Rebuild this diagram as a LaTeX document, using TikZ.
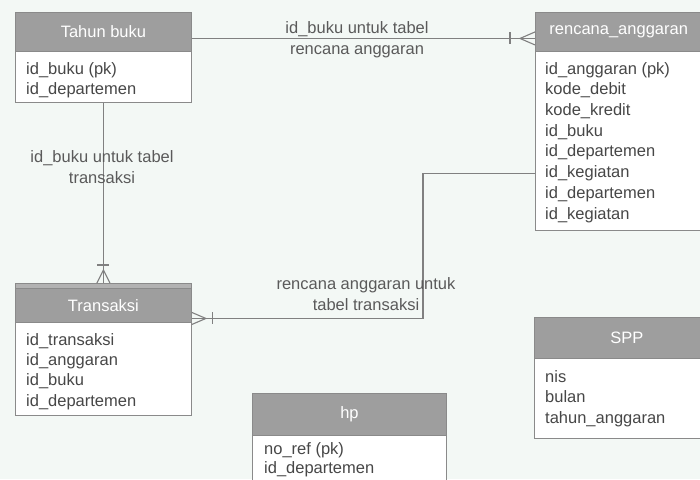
\documentclass[tikz,border=0pt]{standalone}
\usepackage{fontspec}
\setmainfont{Liberation Sans}
\usetikzlibrary{calc}
\definecolor{bgc}{HTML}{F3F8F5}
\definecolor{hdrc}{HTML}{9E9E9E}
\definecolor{hdrlt}{HTML}{B2B2B2}
\definecolor{brd}{HTML}{8A8A8A}
\definecolor{txtc}{HTML}{474747}
\definecolor{lblc}{HTML}{5A5A5A}
\definecolor{conc}{HTML}{808080}
\tikzset{
  hdr/.style={draw=brd, fill=hdrc, line width=0.9pt, anchor=north west, inner sep=0pt,
    text=white, font=\fontsize{16.5pt}{20.7pt}\selectfont},
  tbody/.style={draw=brd, fill=white, line width=0.9pt, anchor=north west, inner sep=0pt},
  rows/.style={anchor=north west, align=left, inner sep=0pt, text=txtc,
    font=\fontsize{16.5pt}{20.7pt}\selectfont},
  lbl/.style={align=center, inner sep=0pt, text=lblc,
    font=\fontsize{16.5pt}{21pt}\selectfont},
  conn/.style={draw=conc, line width=1.1pt}
}
\begin{document}
\begin{tikzpicture}[x=1pt,y=-1pt]
\clip (0,0) rectangle (700,479);
\fill[bgc] (0,0) rectangle (700,479);

% Tahun buku
\node[tbody, minimum width=176pt, minimum height=51pt] (tb-b) at (15,51) {};
\node[hdr, minimum width=176pt, minimum height=39pt] (tb-h) at (15,12) {Tahun buku};
\node[rows] (tb-r) at (26,62) {id\_buku (pk)\\id\_departemen};

% rencana_anggaran
\node[tbody, minimum width=175pt, minimum height=179pt] (ra-b) at (535,51) {};
\node[hdr, minimum width=175pt, minimum height=39pt, text width=165pt, align=left] (ra-h) at (535,12) {\hspace*{9pt}rencana\_anggaran};
\node[rows] (ra-r) at (545,62) {id\_anggaran (pk)\\kode\_debit\\kode\_kredit\\id\_buku\\id\_departemen\\id\_kegiatan\\id\_departemen\\id\_kegiatan};

% Transaksi
\node[tbody, minimum width=176pt, minimum height=93pt] (tr-b) at (15,322) {};
\node[hdr, minimum width=176pt, minimum height=34pt] (tr-h) at (15,288) {Transaksi};
\node[draw=brd, fill=hdrlt, line width=0.9pt, anchor=north west, inner sep=0pt, minimum width=176pt, minimum height=5pt] (tr-s) at (15,283) {};
\node[rows, font=\fontsize{16.5pt}{20.4pt}\selectfont] (tr-r) at (26,333) {id\_transaksi\\id\_anggaran\\id\_buku\\id\_departemen};

% hp
\node[tbody, minimum width=194pt, minimum height=60pt] (hp-b) at (252,435) {};
\node[hdr, minimum width=194pt, minimum height=42pt] (hp-h) at (252,393) {hp};
\node[rows, font=\fontsize{16.5pt}{19.5pt}\selectfont] (hp-r) at (264,442) {no\_ref (pk)\\id\_departemen};

% SPP
\node[tbody, minimum width=176pt, minimum height=80pt] (spp-b) at (534,358) {};
\node[hdr, minimum width=176pt, minimum height=41pt, text width=166pt, align=left] (spp-h) at (534,317) {\hspace*{71pt}SPP};
\node[rows] (spp-r) at (545,370) {nis\\bulan\\tahun\_anggaran};

% connector 1: Tahun buku -> rencana_anggaran
\coordinate (e1) at ([yshift=-6.5pt]ra-h.west);
\draw[conn] ([yshift=-6.5pt]tb-h.east) -- (e1);
\draw[conn] ($(e1)+(-25,-6)$) -- ++(0,12);
\draw[conn] ($(e1)+(0,-6.5)$) -- ($(e1)+(-15,0)$) -- ($(e1)+(0,6.5)$);
\node[lbl] (l1) at (357,39.5) {id\_buku untuk tabel\\rencana anggaran};

% connector 2: Tahun buku -> Transaksi
\coordinate (e2) at (tr-s.north);
\draw[conn] (tb-b.south) -- (e2);
\draw[conn] ($(e2)+(-6,-18)$) -- ++(12,0);
\draw[conn] ($(e2)+(-6.5,0)$) -- ($(e2)+(0,-13)$) -- ($(e2)+(6.5,0)$);
\node[lbl] (l2) at (102,167) {id\_buku untuk tabel\\transaksi};

% connector 3: rencana_anggaran -> Transaksi
\coordinate (e3) at ([yshift=-13pt]tr-h.east);
\draw[conn] ([yshift=-32.5pt]ra-b.west) -- ++(-112,0) |- (e3);
\draw[conn] ($(e3)+(21,-6)$) -- ++(0,12);
\draw[conn] ($(e3)+(0,-6)$) -- ($(e3)+(14,0)$) -- ($(e3)+(0,6)$);
\node[lbl] (l3) at (366,294.5) {rencana anggaran untuk\\tabel transaksi};
\end{tikzpicture}
\end{document}
